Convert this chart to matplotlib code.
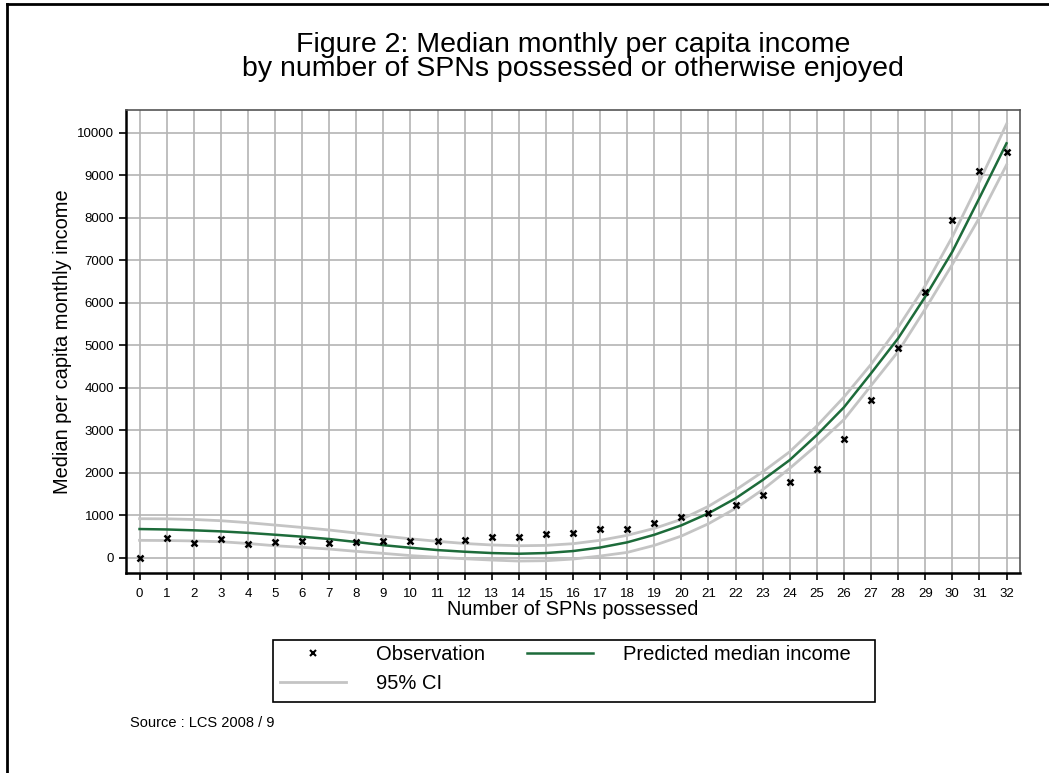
import matplotlib
matplotlib.use("Agg")
import matplotlib.pyplot as plt
from matplotlib.lines import Line2D
from matplotlib.patches import Rectangle

plt.rcParams['font.family'] = ['Liberation Sans', 'DejaVu Sans']

# number of SPNs possessed
spns = list(range(33))

# observed median monthly per capita income
observed = [0, 456, 346, 440, 330, 370, 400, 346, 370, 400, 400, 400,
            416, 479, 479, 550, 588, 667, 683, 808, 950, 1060, 1232, 1467,
            1773, 2087, 2800, 3711, 4941, 6259, 7946, 9099, 9553]

# fitted median and 95% confidence band
predicted = [675, 665, 645, 620, 585, 541, 495, 440, 370, 295, 235, 180,
             141, 110, 94, 110, 157, 240, 362, 540, 762, 1045, 1397, 1828,
             2299, 2887, 3539, 4339, 5162, 6141, 7200, 8464, 9750]
ci_upper = [918, 915, 900, 871, 825, 769, 712, 652, 580, 511, 445, 386,
            335, 300, 282, 290, 330, 410, 527, 690, 903, 1210, 1593, 2020,
            2494, 3100, 3780, 4550, 5420, 6400, 7550, 8850, 10200]
ci_lower = [409, 405, 395, 377, 335, 282, 245, 204, 150, 102, 50, 10,
            -24, -55, -78, -70, -31, 40, 125, 290, 510, 800, 1162, 1600,
            2103, 2652, 3250, 4050, 4850, 5850, 6900, 8000, 9240]

y_ticks = list(range(0, 10001, 1000))

W, H = 1049, 773
fig = plt.figure(figsize=(W / 100, H / 100), dpi=100)
ax = fig.add_axes([0.1201, 0.2587, 0.8523, 0.599])

grid_col = '#b4b4b4'
for x in spns:
    ax.axvline(x, color=grid_col, lw=1.2, zorder=0)
for y in y_ticks:
    ax.axhline(y, color=grid_col, lw=1.2, zorder=0)

ci_col = '#c4c4c4'
green = '#1d6b3a'
ax.plot(spns, ci_upper, color=ci_col, lw=2, zorder=2)
ax.plot(spns, ci_lower, color=ci_col, lw=2, zorder=2)
ax.plot(spns, predicted, color=green, lw=1.8, zorder=3)
ax.plot(spns, observed, linestyle='none', marker='x', color='black',
        ms=5, mew=1.8, zorder=4)

ax.set_xlim(-0.5, 32.5)
ax.set_ylim(-360, 10534)
ax.set_xticks(spns)
ax.set_yticks(y_ticks)
ax.tick_params(axis='both', direction='out', length=5, width=1.2,
               color='black', labelsize=9.5)
ax.tick_params(axis='x', pad=6)

for side in ['left', 'bottom']:
    ax.spines[side].set_linewidth(1.8)
    ax.spines[side].set_color('black')
for side in ['top', 'right']:
    ax.spines[side].set_linewidth(1.2)
    ax.spines[side].set_color('#555555')

ax.set_xlabel('Number of SPNs possessed', fontsize=14.4, labelpad=0)
ax.set_ylabel('Median per capita monthly income', fontsize=14.4, labelpad=4)

fig.text(0.5463, 1 - 52 / H, 'Figure 2: Median monthly per capita income',
         ha='center', va='baseline', fontsize=20.5)
fig.text(0.5463, 1 - 76 / H, 'by number of SPNs possessed or otherwise enjoyed',
         ha='center', va='baseline', fontsize=20.5)

# legend box
fig.add_artist(Rectangle((273 / W, 1 - 702 / H), 602 / W, 62 / H,
                         transform=fig.transFigure, fill=False,
                         edgecolor='black', lw=1.2))
handles = [
    Line2D([], [], linestyle='none', marker='x', color='black', ms=4, mew=1.5),
    Line2D([], [], color=ci_col, lw=2),
    Line2D([], [], color=green, lw=1.8),
]
labels = ['Observation', '95% CI', 'Predicted median income']
fig.legend(handles, labels, ncol=2, loc='upper left',
           bbox_to_anchor=(280 / W, 1 - 645 / H),
           fontsize=14.5, handlelength=3.3, handletextpad=1.45,
           frameon=False, borderaxespad=0, borderpad=0,
           labelspacing=0.5, columnspacing=2.1)

fig.text(130 / W, 1 - 723 / H, 'Source : LCS 2008 / 9',
         ha='left', va='center', fontsize=10.5)

# outer frame (left and top edges)
fig.add_artist(Line2D([7 / W, 7 / W], [0, 1 - 4 / H],
                      color='black', lw=2, transform=fig.transFigure))
fig.add_artist(Line2D([7 / W, 1], [1 - 4 / H, 1 - 4 / H],
                      color='black', lw=2, transform=fig.transFigure))

fig.savefig('out.png', dpi=100)
